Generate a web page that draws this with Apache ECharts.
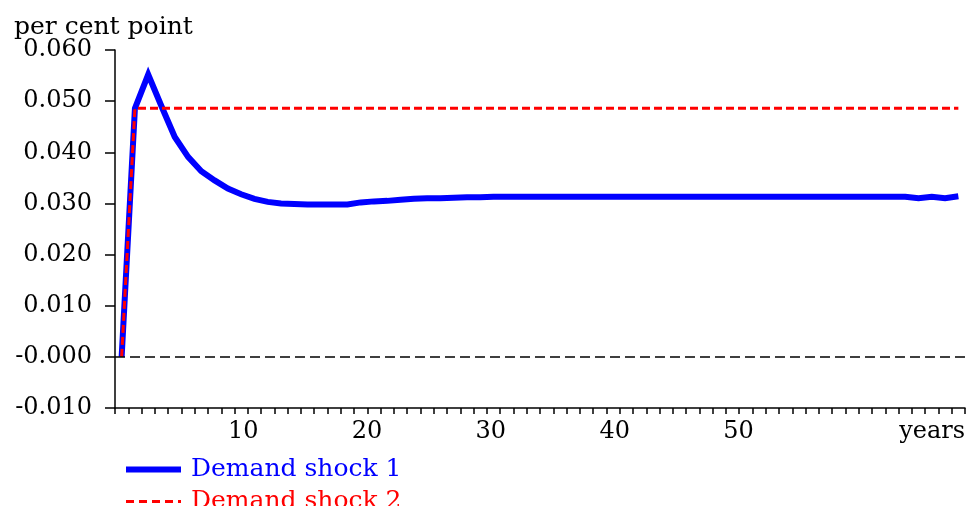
<!DOCTYPE html>
<html>
<head>
<meta charset="utf-8">
<script src="https://cdn.jsdelivr.net/npm/echarts@6/dist/echarts.min.js"></script>
<style>
  html, body { margin: 0; padding: 0; background: #fff; }
  #chart { width: 968px; height: 506px; }
</style>
</head>
<body>
<div id="chart"></div>
<script>
// periods after the shock
var periods = [0, 1, 2, 3, 4, 5, 6, 7, 8, 9, 10, 11, 12, 13, 14, 15, 16, 17, 18, 19,
    20, 21, 22, 23, 24, 25, 26, 27, 28, 29, 30, 31, 32, 33, 34, 35, 36, 37, 38, 39,
    40, 41, 42, 43, 44, 45, 46, 47, 48, 49, 50, 51, 52, 53, 54, 55, 56, 57, 58, 59,
    60, 61, 62, 63];

var shock1 = [0, 0.0486, 0.0552, 0.0490, 0.0430, 0.0391, 0.0363, 0.0345, 0.0329, 0.0318,
    0.0309, 0.0303, 0.0300, 0.0299, 0.0298, 0.0298, 0.0298, 0.0298, 0.0302, 0.0304,
    0.0305, 0.0307, 0.0309, 0.0310, 0.0310, 0.0311, 0.0312, 0.0312, 0.0313, 0.0313,
    0.0313, 0.0313, 0.0313, 0.0313, 0.0313, 0.0313, 0.0313, 0.0313, 0.0313, 0.0313,
    0.0313, 0.0313, 0.0313, 0.0313, 0.0313, 0.0313, 0.0313, 0.0313, 0.0313, 0.0313,
    0.0313, 0.0313, 0.0313, 0.0313, 0.0313, 0.0313, 0.0313, 0.0313, 0.0313, 0.0313,
    0.0310, 0.0313, 0.0310, 0.0314];

var shock2 = [0, 0.0486, 0.0486, 0.0486, 0.0486, 0.0486, 0.0486, 0.0486, 0.0486, 0.0486,
    0.0486, 0.0486, 0.0486, 0.0486, 0.0486, 0.0486, 0.0486, 0.0486, 0.0486, 0.0486,
    0.0486, 0.0486, 0.0486, 0.0486, 0.0486, 0.0486, 0.0486, 0.0486, 0.0486, 0.0486,
    0.0486, 0.0486, 0.0486, 0.0486, 0.0486, 0.0486, 0.0486, 0.0486, 0.0486, 0.0486,
    0.0486, 0.0486, 0.0486, 0.0486, 0.0486, 0.0486, 0.0486, 0.0486, 0.0486, 0.0486,
    0.0486, 0.0486, 0.0486, 0.0486, 0.0486, 0.0486, 0.0486, 0.0486, 0.0486, 0.0486,
    0.0486, 0.0486, 0.0486, 0.0486];

var yearTicks = [10, 20, 30, 40, 50];
var yTickLabels = ['-0.010', '-0.000', '0.010', '0.020', '0.030', '0.040', '0.050', '0.060'];

var FONT = 'DejaVu Serif';

var chart = echarts.init(document.getElementById('chart'));

var option = {
    animation: false,
    title: {
        text: 'per cent point',
        left: 9,
        top: 10,
        textStyle: { fontFamily: FONT, fontSize: 25, fontWeight: 'normal', color: '#000' }
    },
    legend: {
        orient: 'vertical',
        left: 123,
        top: 457,
        height: 90,
        padding: 0,
        itemWidth: 55,
        itemHeight: 14,
        itemGap: 7,
        itemStyle: { opacity: 0 },
        data: [
            { name: 'Demand shock 1', textStyle: { color: '#0000ff' },
              lineStyle: { color: '#0000ff', width: 6 } },
            { name: 'Demand shock 2', textStyle: { color: '#ff0000' },
              lineStyle: { color: '#ff0000', width: 3, type: [8, 5] } }
        ],
        textStyle: { fontFamily: FONT, fontSize: 25, lineHeight: 25, padding: [0, 0, 0, 5] }
    },
    grid: { left: 115, right: 3, top: 50, bottom: 98 },
    xAxis: [
        {
            type: 'category',
            data: periods,
            boundaryGap: true,
            axisLine: { onZero: false, lineStyle: { color: '#000', width: 1.5 } },
            axisTick: { show: true, interval: 0, length: 6, lineStyle: { color: '#000', width: 1.5 } },
            axisLabel: { show: false },
            splitLine: { show: false }
        },
        {
            type: 'value',
            position: 'bottom',
            min: -0.36,
            max: 68.3,
            axisLine: { show: false, onZero: false },
            axisTick: { show: false },
            splitLine: { show: false },
            axisLabel: {
                customValues: yearTicks,
                margin: 12,
                color: '#000',
                fontFamily: FONT,
                fontSize: 24
            },
            name: 'years',
            nameLocation: 'end',
            nameGap: 0,
            nameTextStyle: {
                fontFamily: FONT, fontSize: 24, color: '#000',
                align: 'right', verticalAlign: 'top', padding: [12, 0, 0, 0]
            }
        }
    ],
    yAxis: {
        type: 'value',
        min: -0.01,
        max: 0.06,
        interval: 0.01,
        axisLine: { show: true, onZero: false, lineStyle: { color: '#000', width: 1.5 } },
        axisTick: { show: true, length: 10, lineStyle: { color: '#000', width: 1.5 } },
        splitLine: { show: false },
        axisLabel: {
            margin: 23,
            color: '#000',
            fontFamily: FONT,
            fontSize: 24,
            formatter: function (v) {
                return yTickLabels[Math.round((v + 0.01) / 0.01)];
            }
        }
    },
    series: [
        {
            name: 'Demand shock 1',
            type: 'line',
            data: shock1,
            symbol: 'none',
            lineStyle: { color: '#0000ff', width: 6, join: 'miter' },
            itemStyle: { color: '#0000ff' },
            markLine: {
                silent: true,
                symbol: 'none',
                label: { show: false },
                lineStyle: { color: '#000', width: 1.5, type: [10, 5] },
                data: [{ yAxis: 0 }]
            }
        },
        {
            name: 'Demand shock 2',
            type: 'line',
            data: shock2,
            symbol: 'none',
            lineStyle: { color: '#ff0000', width: 3, type: [8, 4] },
            itemStyle: { color: '#ff0000' }
        }
    ]
};
chart.setOption(option);
</script>
</body>
</html>
